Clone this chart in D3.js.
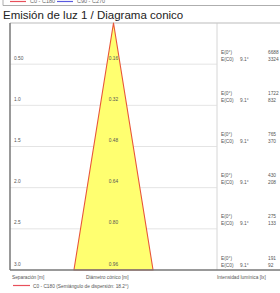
<!DOCTYPE html>
<html>
<head>
<meta charset="utf-8">
<script src="https://cdn.jsdelivr.net/npm/d3@7"></script>
<style>
  body { margin: 0; background: #fff; }
  svg { display: block; font-family: "Liberation Sans", Arial, sans-serif; }
</style>
</head>
<body>
<svg width="280" height="293"></svg>
<script>
  // values
  const distances = [0.5, 1.0, 1.5, 2.0, 2.5, 3.0];
  const distanceLabels = ["0.50", "1.0", "1.5", "2.0", "2.5", "3.0"];
  const diameters = [0.16, 0.32, 0.48, 0.64, 0.80, 0.96];
  const halfAngle = [9.1, 9.1, 9.1, 9.1, 9.1, 9.1];
  const eCenter = [6688, 1722, 765, 430, 275, 191];
  const eC0 = [3324, 832, 370, 208, 133, 92];

  const svg = d3.select("svg");

  const plotTop = 23, plotBottom = 270, plotLeft = 10, plotMid = 217;

  const y = d3.scaleLinear().domain([0, 3]).range([plotTop, plotBottom]);
  const x = d3.scaleLinear().domain([-0.5, 0.5]).range([113.5 - 41.2, 113.5 + 41.2]);

  // bits of the previous chart's legend, clipped at the top
  svg.append("line").attr("x1", 3).attr("x2", 280).attr("y1", 5.5).attr("y2", 5.5)
    .attr("stroke", "#999").attr("stroke-width", 0.8);
  svg.append("line").attr("x1", 3).attr("x2", 3).attr("y1", 0).attr("y2", 5.5)
    .attr("stroke", "#999").attr("stroke-width", 0.8);
  svg.append("line").attr("x1", 10).attr("x2", 26).attr("y1", 1.5).attr("y2", 1.5)
    .attr("stroke", "#e8505b").attr("stroke-width", 1.2);
  svg.append("text").attr("x", 30).attr("y", 3).attr("font-size", 5.5).attr("fill", "#666").text("C0 - C180");
  svg.append("line").attr("x1", 57).attr("x2", 73).attr("y1", 1.5).attr("y2", 1.5)
    .attr("stroke", "#5a5ae0").attr("stroke-width", 1.2);
  svg.append("text").attr("x", 77).attr("y", 3).attr("font-size", 5.5).attr("fill", "#666").text("C90 - C270");

  // title
  svg.append("text").attr("x", 3).attr("y", 19)
    .attr("font-size", 11.5).attr("fill", "#222")
    .text("Emisión de luz 1 / Diagrama conico");

  // frame
  svg.append("line").attr("x1", plotLeft).attr("x2", 280).attr("y1", plotTop).attr("y2", plotTop)
    .attr("stroke", "#aaa").attr("stroke-width", 0.8);
  svg.append("line").attr("x1", plotMid).attr("x2", plotMid).attr("y1", plotTop).attr("y2", plotBottom)
    .attr("stroke", "#ccc").attr("stroke-width", 0.8);

  // grid lines (last one is the axis)
  svg.append("g").selectAll("line")
    .data(distances.slice(0, -1))
    .join("line")
    .attr("x1", plotLeft).attr("x2", plotMid)
    .attr("y1", d => y(d)).attr("y2", d => y(d))
    .attr("stroke", "#ddd").attr("stroke-width", 0.8);

  // cone
  const maxD = d3.max(distances);
  const half = diameters[diameters.length - 1] / 2;
  svg.append("path")
    .attr("d", d3.line()([[x(0), y(0)], [x(-half), y(maxD)], [x(half), y(maxD)]]) + "Z")
    .attr("fill", "#ffff70")
    .attr("stroke", "#e8553a")
    .attr("stroke-width", 1.1)
    .attr("stroke-linejoin", "round");

  // axes
  svg.append("line").attr("x1", plotLeft).attr("x2", plotLeft).attr("y1", plotTop).attr("y2", plotBottom)
    .attr("stroke", "#777").attr("stroke-width", 1.5);
  svg.append("line").attr("x1", plotLeft).attr("x2", 280).attr("y1", plotBottom).attr("y2", plotBottom)
    .attr("stroke", "#777").attr("stroke-width", 1.5);

  const small = 4.8;
  const rows = svg.append("g").selectAll("g")
    .data(distances)
    .join("g");

  rows.append("text")
    .attr("x", 14).attr("y", d => y(d) - 4.5)
    .attr("font-size", small).attr("fill", "#555")
    .text((d, i) => distanceLabels[i]);

  rows.append("text")
    .attr("x", x(0)).attr("y", d => y(d) - 4.5)
    .attr("text-anchor", "middle")
    .attr("font-size", small).attr("fill", "#555")
    .text((d, i) => diameters[i].toFixed(2));

  rows.append("text")
    .attr("x", 221).attr("y", d => y(d) - 10.5)
    .attr("font-size", small).attr("fill", "#555")
    .text("E(0°)");
  rows.append("text")
    .attr("x", 221).attr("y", d => y(d) - 3.5)
    .attr("font-size", small).attr("fill", "#555")
    .text("E(C0)");
  rows.append("text")
    .attr("x", 240).attr("y", d => y(d) - 3.5)
    .attr("font-size", small).attr("fill", "#555")
    .text((d, i) => halfAngle[i].toFixed(1) + "°");
  rows.append("text")
    .attr("x", 268).attr("y", d => y(d) - 10.5)
    .attr("font-size", small).attr("fill", "#555")
    .text((d, i) => eCenter[i]);
  rows.append("text")
    .attr("x", 268).attr("y", d => y(d) - 3.5)
    .attr("font-size", small).attr("fill", "#555")
    .text((d, i) => eC0[i]);

  // bottom labels
  svg.append("text").attr("x", 12).attr("y", 279).attr("font-size", small).attr("fill", "#555").text("Separación [m]");
  svg.append("text").attr("x", 86).attr("y", 279).attr("font-size", small).attr("fill", "#555").text("Diámetro cónico [m]");
  svg.append("text").attr("x", 217).attr("y", 279).attr("font-size", small).attr("fill", "#555").text("Intensidad lumínica [lx]");

  // legend
  svg.append("line").attr("x1", 13).attr("x2", 30).attr("y1", 285.5).attr("y2", 285.5)
    .attr("stroke", "#e8505b").attr("stroke-width", 1.2);
  svg.append("text").attr("x", 33).attr("y", 287.5).attr("font-size", small).attr("fill", "#555")
    .text("C0 - C180 (Semiángulo de dispersión: 18.2°)");
</script>
</body>
</html>
